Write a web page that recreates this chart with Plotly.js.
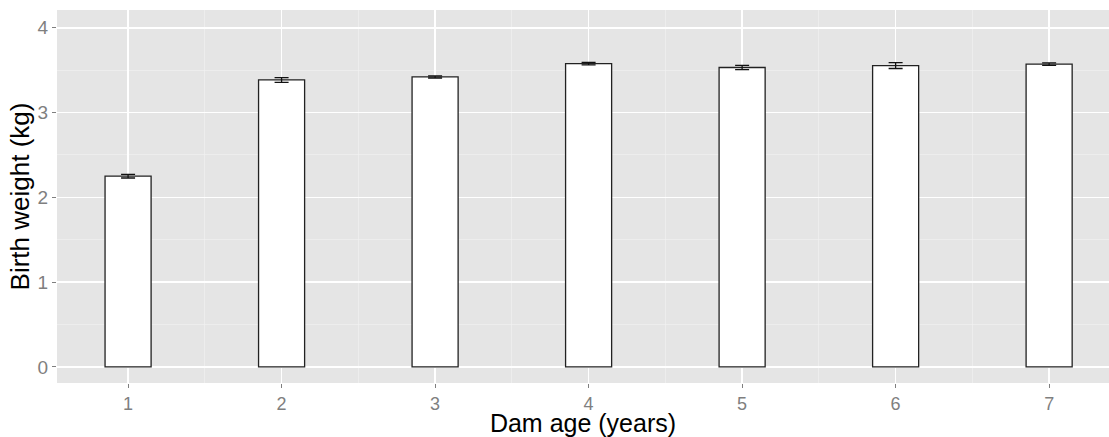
<!DOCTYPE html>
<html>
<head>
<meta charset="utf-8">
<script src="https://cdn.plot.ly/plotly-3.0.1.min.js"></script>
<style>html,body{margin:0;padding:0;background:#fff;}#chart{width:1109px;height:437px;}</style>
</head>
<body>
<div id="chart"></div>
<script>
// Data
const damAge = [1, 2, 3, 4, 5, 6, 7];
const tickLabels = ["1", "2", "3", "4", "5", "6", "7"];
const birthWeight = [2.25, 3.385, 3.42, 3.578, 3.532, 3.555, 3.571];
const stdError = [0.022, 0.028, 0.012, 0.015, 0.025, 0.035, 0.015];
const yTicks = [0, 1, 2, 3, 4];
const minorX = [1.5, 2.5, 3.5, 4.5, 5.5, 6.5];
const minorY = [0.5, 1.5, 2.5, 3.5];

const trace = {
  type: 'bar',
  x: damAge,
  y: birthWeight,
  width: 0.3,
  marker: {color: '#FFFFFF', line: {color: '#222222', width: 1.3}},
  error_y: {type: 'data', array: stdError, visible: true, color: '#111111', thickness: 1.3, width: 7},
  hoverinfo: 'x+y'
};

const layout = {
  width: 1109, height: 437,
  margin: {l: 57, r: 0, t: 10, b: 54, pad: 0},
  paper_bgcolor: '#FFFFFF',
  plot_bgcolor: '#E5E5E5',
  showlegend: false,
  font: {family: 'Liberation Sans, Arial, sans-serif'},
  xaxis: {
    type: 'linear',
    range: [0.537, 7.39],
    tickmode: 'array', tickvals: damAge, ticktext: tickLabels,
    showgrid: true, gridcolor: '#FFFFFF', gridwidth: 1.4,
    zeroline: false, showline: false,
    ticks: 'outside', ticklen: 4, tickwidth: 1, tickcolor: '#7F7F7F',
    tickfont: {size: 18, color: '#7F7F7F'},
    minor: {tickmode: 'array', tickvals: minorX, showgrid: true, gridcolor: '#F2F2F2', gridwidth: 0.6, ticks: ''},
    title: {text: 'Dam age (years)', font: {size: 25, color: '#000000'}, standoff: 5},
    automargin: false, fixedrange: true
  },
  yaxis: {
    range: [-0.19, 4.21],
    tickmode: 'array', tickvals: yTicks,
    showgrid: true, gridcolor: '#FFFFFF', gridwidth: 1.4,
    zeroline: false, showline: false,
    ticks: 'outside', ticklen: 4, tickwidth: 1, tickcolor: '#7F7F7F',
    tickfont: {size: 19, color: '#7F7F7F'},
    minor: {tickmode: 'array', tickvals: minorY, showgrid: true, gridcolor: '#F2F2F2', gridwidth: 0.6, ticks: ''},
    title: {text: 'Birth weight (kg)', font: {size: 26, color: '#000000'}, standoff: 0},
    automargin: false, fixedrange: true
  }
};

Plotly.newPlot('chart', [trace], layout, {displayModeBar: false, staticPlot: true});
</script>
</body>
</html>
